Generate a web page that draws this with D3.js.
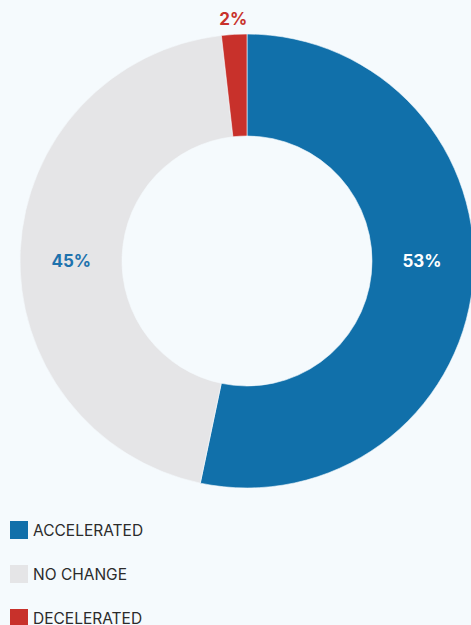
<!DOCTYPE html>
<html>
<head>
<meta charset="utf-8">
<script src="https://cdn.jsdelivr.net/npm/d3@7"></script>
<style>
  html, body { margin: 0; padding: 0; background: #f5fafd; }
  svg { display: block; font-family: Inter, "Noto Sans", sans-serif; }
</style>
</head>
<body>
<svg id="chart" width="471" height="625"></svg>
<script>
// chart data (shares, labels are rounded)
var categories = ["ACCELERATED", "NO CHANGE", "DECELERATED"];
var values = [53.3, 44.9, 1.8];
var colors = ["#1170aa", "#e5e5e7", "#c8312b"];
var labelColors = ["#ffffff", "#1d72ad", "#c8312b"];

var width = 471, height = 625;
var cx = 247, cy = 261;
var outerR = 227, innerR = 125;

var svg = d3.select("#chart");

var data = categories.map(function(c, i) {
    return { name: c, value: values[i], color: colors[i], labelColor: labelColors[i] };
});

var pie = d3.pie()
    .sort(null)
    .value(function(d) { return d.value; });

var arc = d3.arc()
    .innerRadius(innerR)
    .outerRadius(outerR);

var labelArc = d3.arc()
    .innerRadius((innerR + outerR) / 2)
    .outerRadius((innerR + outerR) / 2);

var outsideArc = d3.arc()
    .innerRadius(outerR + 15)
    .outerRadius(outerR + 15);

var g = svg.append("g")
    .attr("transform", "translate(" + cx + "," + cy + ")");

var arcs = pie(data);

g.selectAll("path.slice")
    .data(arcs)
    .join("path")
    .attr("class", "slice")
    .attr("d", arc)
    .attr("fill", function(d) { return d.data.color; })
    .attr("stroke", "#f5fafd")
    .attr("stroke-width", 0.6);

// labels: small slices go outside, big ones sit on the horizontal middle
g.selectAll("text.pct")
    .data(arcs)
    .join("text")
    .attr("class", "pct")
    .attr("text-anchor", "middle")
    .attr("dominant-baseline", "central")
    .attr("x", function(d) {
        var small = (d.endAngle - d.startAngle) < 0.3;
        return small ? outsideArc.centroid(d)[0] : labelArc.centroid(d)[0];
    })
    .attr("y", function(d) {
        var small = (d.endAngle - d.startAngle) < 0.3;
        return small ? outsideArc.centroid(d)[1] : 0;
    })
    .attr("fill", function(d) { return d.data.labelColor; })
    .style("font-size", "17px")
    .style("font-weight", "700")
    .text(function(d) { return Math.round(d.data.value) + "%"; });

// legend
var legendY = d3.scaleBand()
    .domain(categories)
    .range([508, 640])
    .paddingInner(0);

var legend = svg.append("g")
    .selectAll("g")
    .data(data)
    .join("g")
    .attr("transform", function(d) {
        return "translate(10," + (legendY(d.name) + legendY.bandwidth() / 2) + ")";
    });

legend.append("rect")
    .attr("x", 0)
    .attr("y", -9)
    .attr("width", 18)
    .attr("height", 18)
    .attr("fill", function(d) { return d.color; });

legend.append("text")
    .attr("x", 23)
    .attr("y", 0.5)
    .attr("dominant-baseline", "central")
    .attr("fill", "#2b2b2b")
    .style("font-size", "15.5px")
    .text(function(d) { return d.name; });
</script>
</body>
</html>
